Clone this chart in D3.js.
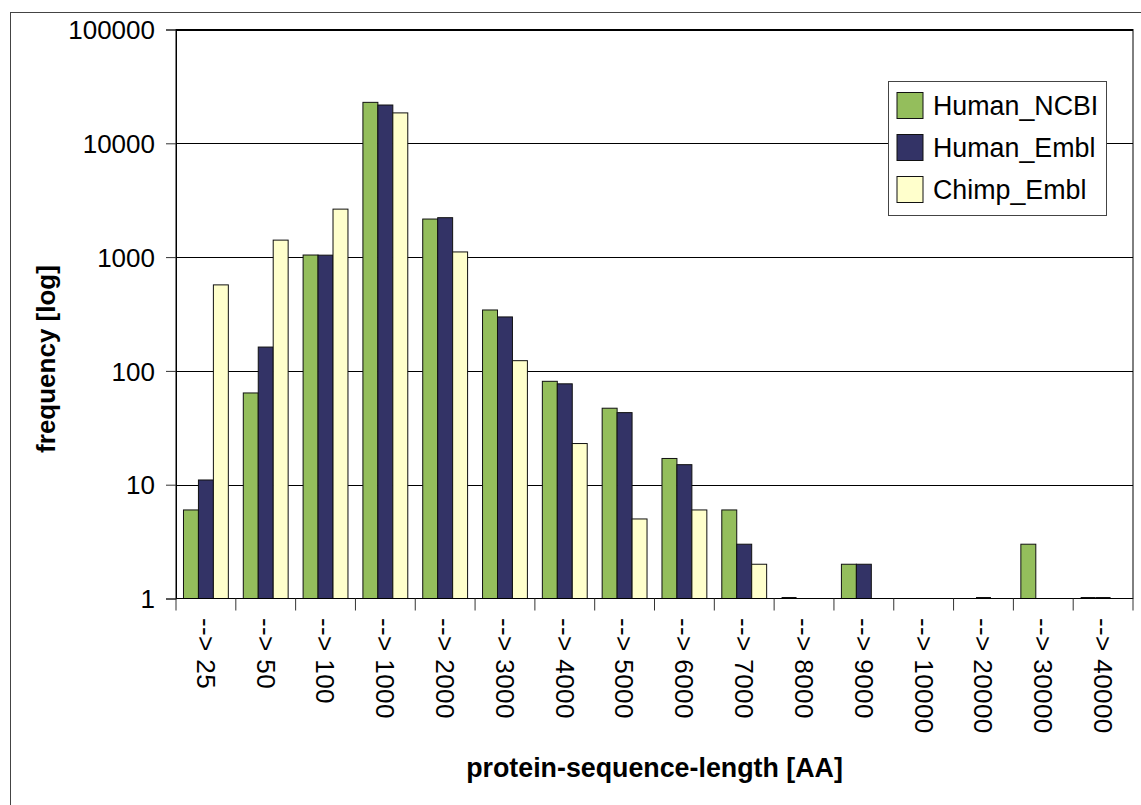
<!DOCTYPE html>
<html>
<head>
<meta charset="utf-8">
<script src="https://cdn.jsdelivr.net/npm/d3@7"></script>
<style>
  html, body { margin: 0; padding: 0; background: #fff; }
  svg text { font-family: "Liberation Sans", Arial, sans-serif; fill: #000; }
</style>
</head>
<body>
<div id="chart"></div>
<script>
// categories and values (log scale, 1 = baseline)
const categories = ['--> 25', '--> 50', '--> 100', '--> 1000', '--> 2000', '--> 3000',
    '--> 4000', '--> 5000', '--> 6000', '--> 7000', '--> 8000', '--> 9000',
    '--> 10000', '--> 20000', '--> 30000', '--> 40000'];
const seriesNames = ['Human_NCBI', 'Human_Embl', 'Chimp_Embl'];
const humanNCBI = [6, 64, 1043, 22900, 2160, 343, 81, 47, 17, 6, 1, 2, null, null, 3, 1];
const humanEmbl = [11, 162, 1040, 21700, 2220, 298, 77, 43, 15, 3, null, 2, null, 1, null, 1];
const chimpEmbl = [570, 1410, 2640, 18500, 1110, 123, 23, 5, 6, 2, null, null, null, null, null, null];
const yTicks = [1, 10, 100, 1000, 10000, 100000];
const colors = ['#94be5c', '#333366', '#ffffcc'];

const width = 1141;
const height = 805;
const margin = { top: 29.5, right: 8, bottom: 206.5, left: 176 };

const svg = d3.select('#chart')
    .append('svg')
    .attr('width', width)
    .attr('height', height);

// outer chart frame
svg.append('rect')
    .attr('x', 10.5)
    .attr('y', 12.5)
    .attr('width', 1200)
    .attr('height', 1000)
    .attr('fill', 'none')
    .attr('stroke', '#444');

const x = d3.scaleBand()
    .domain(categories)
    .range([margin.left, width - margin.right]);
const xInner = d3.scaleBand()
    .domain(seriesNames)
    .range([0, x.bandwidth()])
    .paddingOuter(0.5);
const y = d3.scaleLog()
    .domain([1, 100000])
    .range([height - margin.bottom, margin.top]);

const series = seriesNames.map((name, i) => ({
    name,
    color: colors[i],
    values: [humanNCBI, humanEmbl, chimpEmbl][i]
}));

// gridlines
svg.append('g')
    .selectAll('line')
    .data(yTicks.slice(1))
    .join('line')
    .attr('x1', margin.left)
    .attr('x2', width - margin.right)
    .attr('y1', (d) => Math.round(y(d)) + 0.5)
    .attr('y2', (d) => Math.round(y(d)) + 0.5)
    .attr('stroke', '#000');

// bars
const bars = svg.append('g');
series.forEach((s) => {
    const cells = categories
        .map((c, i) => ({ c, v: s.values[i] }))
        .filter((d) => d.v != null);
    bars.append('g')
        .selectAll('rect')
        .data(cells.filter((d) => d.v > 1))
        .join('rect')
        .attr('x', (d) => x(d.c) + xInner(s.name))
        .attr('y', (d) => y(d.v))
        .attr('width', xInner.bandwidth())
        .attr('height', (d) => y(1) - y(d.v))
        .attr('fill', s.color)
        .attr('stroke', '#111')
        .attr('stroke-width', 1);
    // value 1 sits on the baseline: a flat bar
    bars.append('g')
        .selectAll('line')
        .data(cells.filter((d) => d.v === 1))
        .join('line')
        .attr('x1', (d) => x(d.c) + xInner(s.name))
        .attr('x2', (d) => x(d.c) + xInner(s.name) + xInner.bandwidth())
        .attr('y1', y(1) - 0.5)
        .attr('y2', y(1) - 0.5)
        .attr('stroke', '#111')
        .attr('stroke-width', 2);
});

// plot area border
svg.append('rect')
    .attr('x', margin.left)
    .attr('y', margin.top)
    .attr('width', width - margin.right - margin.left)
    .attr('height', y(1) - margin.top)
    .attr('fill', 'none')
    .attr('stroke', '#000');

// y axis
const yAxis = d3.axisLeft(y)
    .tickValues(yTicks)
    .tickFormat(d3.format('d'))
    .tickSize(10)
    .tickPadding(11);
const yAxisG = svg.append('g')
    .attr('transform', `translate(${margin.left}, 0)`)
    .call(yAxis);
yAxisG.select('.domain').attr('stroke', '#000');
yAxisG.selectAll('.tick line').attr('stroke', '#333');
yAxisG.selectAll('.tick text')
    .attr('font-size', 26)
    .attr('font-family', '"Liberation Sans", Arial, sans-serif')
    .attr('dy', '0.35em');

// x axis: ticks on category boundaries, labels rotated
const boundaries = categories.map((c) => x(c)).concat([x.range()[1]]);
svg.append('g')
    .selectAll('line')
    .data(boundaries)
    .join('line')
    .attr('x1', (d) => d)
    .attr('x2', (d) => d)
    .attr('y1', y(1))
    .attr('y2', y(1) + 12)
    .attr('stroke', '#333');

svg.append('g')
    .selectAll('text')
    .data(categories)
    .join('text')
    .attr('transform', (d) => `translate(${x(d) + x.bandwidth() / 2}, 618) rotate(90)`)
    .attr('dy', '0.35em')
    .attr('font-size', 26)
    .attr('letter-spacing', 0.4)
    .text((d) => d);

// axis titles
svg.append('text')
    .attr('x', (margin.left + width - margin.right) / 2)
    .attr('y', 777)
    .attr('text-anchor', 'middle')
    .attr('font-size', 26.8)
    .attr('font-weight', 'bold')
    .text('protein-sequence-length [AA]');

svg.append('text')
    .attr('transform', 'translate(55, 359) rotate(-90)')
    .attr('text-anchor', 'middle')
    .attr('font-size', 26)
    .attr('font-weight', 'bold')
    .text('frequency [log]');

// legend
const legend = svg.append('g');
legend.append('rect')
    .attr('x', 888.5)
    .attr('y', 81.5)
    .attr('width', 218)
    .attr('height', 134)
    .attr('fill', '#fff')
    .attr('stroke', '#444');
const rows = legend.selectAll('g')
    .data(series)
    .join('g')
    .attr('transform', (d, i) => `translate(897, ${105.5 + i * 42})`);
rows.append('rect')
    .attr('x', 0)
    .attr('y', -13)
    .attr('width', 26)
    .attr('height', 26)
    .attr('fill', (d) => d.color)
    .attr('stroke', '#111');
rows.append('text')
    .attr('x', 36)
    .attr('dy', '0.35em')
    .attr('font-size', 26.8)
    .text((d) => d.name);
</script>
</body>
</html>
